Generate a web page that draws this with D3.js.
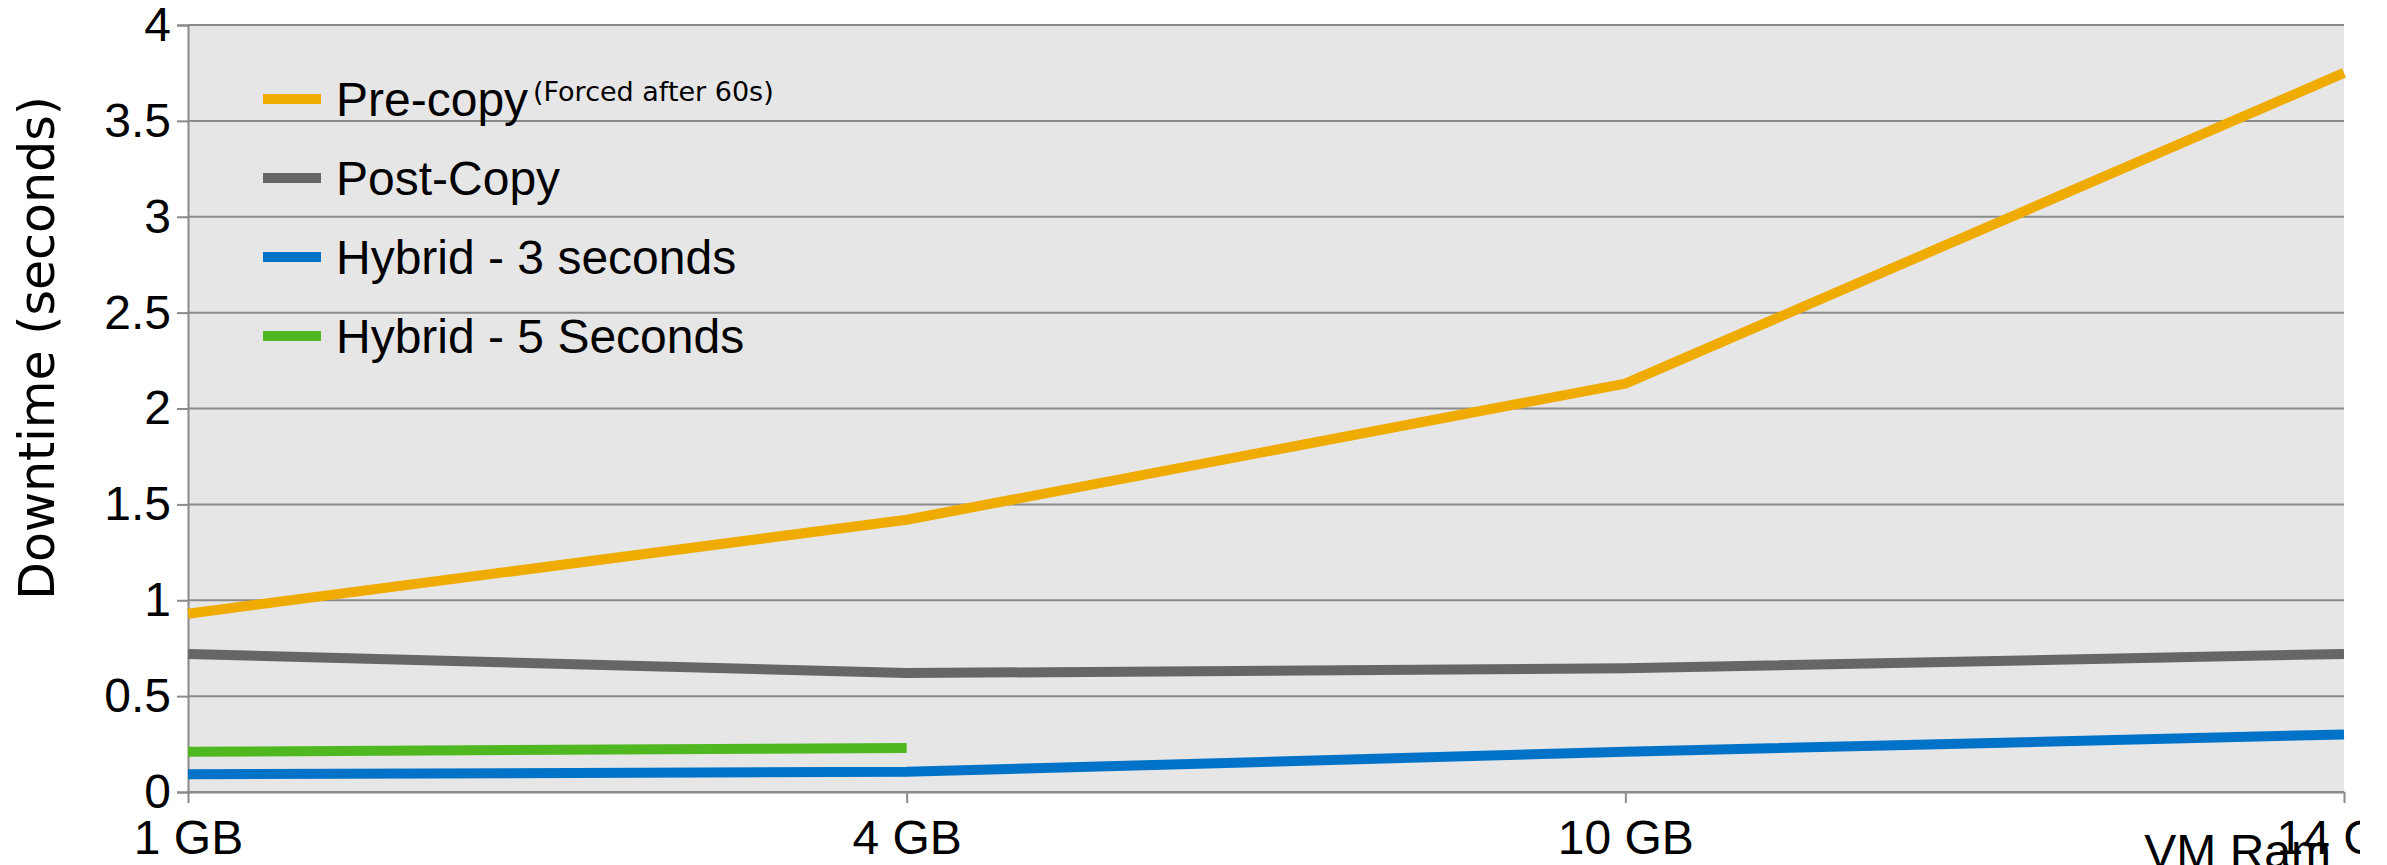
<!DOCTYPE html>
<html>
<head>
<meta charset="utf-8">
<script src="https://cdn.jsdelivr.net/npm/d3@7"></script>
<style>
  html, body { margin: 0; padding: 0; background: #ffffff; }
  svg { display: block; }
</style>
</head>
<body>
<svg id="chart"></svg>
<script>
// VM RAM sizes on the x axis
const categories = ["1 GB", "4 GB", "10 GB", "14 GB"];

// Downtime in seconds per migration strategy (null = not measured)
const preCopy   = [0.93, 1.42, 2.13, 3.75];
const postCopy  = [0.72, 0.62, 0.645, 0.72];
const hybrid3s  = [0.093, 0.105, 0.21, 0.30];
const hybrid5s  = [0.21, 0.229, null, null];

const seriesNames  = ["Pre-copy", "Post-Copy", "Hybrid - 3 seconds", "Hybrid - 5 Seconds"];
const seriesColors = ["#efab00", "#666666", "#0073c8", "#4fb820"];
const yTicks = [0, 0.5, 1, 1.5, 2, 2.5, 3, 3.5, 4];

const series = [preCopy, postCopy, hybrid3s, hybrid5s].map((values, i) => ({
  name: seriesNames[i], color: seriesColors[i], values
}));

const W = 2360, H = 865;
const plotLeft = 188, plotRight = 2344, plotTop = 25, plotBottom = 792;
const sansFont = "'Liberation Sans', Arial, sans-serif";

const svg = d3.select("#chart").attr("width", W).attr("height", H);

const x = d3.scalePoint().domain(categories).range([plotLeft, plotRight]).padding(0);
const y = d3.scaleLinear().domain([0, 4]).range([plotBottom, plotTop]);

// plot background
svg.append("rect")
  .attr("x", plotLeft).attr("y", plotTop)
  .attr("width", plotRight - plotLeft).attr("height", plotBottom - plotTop)
  .attr("fill", "#e6e6e6");

// horizontal gridlines
svg.append("g").selectAll("line").data(yTicks).join("line")
  .attr("x1", plotLeft).attr("x2", plotRight)
  .attr("y1", d => y(d)).attr("y2", d => y(d))
  .attr("stroke", "#8a8a8a").attr("stroke-width", 2);

// y axis
const yAxis = svg.append("g")
  .attr("transform", `translate(${plotLeft},0)`)
  .call(d3.axisLeft(y).tickValues(yTicks).tickSize(11).tickPadding(6).tickFormat(d => String(d)));
yAxis.select(".domain").attr("stroke", "#8a8a8a").attr("stroke-width", 2);
yAxis.selectAll(".tick line").attr("stroke", "#8a8a8a").attr("stroke-width", 2);
yAxis.selectAll(".tick text")
  .attr("fill", "#000").attr("font-family", sansFont)
  .attr("font-size", 48);

// x axis
const xAxis = svg.append("g")
  .attr("transform", `translate(0,${plotBottom})`)
  .call(d3.axisBottom(x).tickSize(11).tickPadding(17).tickSizeOuter(0));
xAxis.select(".domain").attr("stroke", "#8a8a8a").attr("stroke-width", 2);
xAxis.selectAll(".tick line").attr("stroke", "#8a8a8a").attr("stroke-width", 2);
xAxis.selectAll(".tick text")
  .attr("fill", "#000").attr("font-family", sansFont)
  .attr("font-size", 48);

// series lines
const line = d3.line()
  .defined(d => d != null)
  .x((d, i) => x(categories[i]))
  .y(d => y(d));

svg.append("g").selectAll("path").data(series).join("path")
  .attr("d", d => line(d.values))
  .attr("fill", "none")
  .attr("stroke", d => d.color)
  .attr("stroke-width", 10)
  .attr("stroke-linejoin", "round")
  .attr("stroke-linecap", "butt");

// legend
const legend = svg.append("g").attr("transform", "translate(263,99)");
const item = legend.selectAll("g").data(series).join("g")
  .attr("transform", (d, i) => `translate(0,${i * 79})`);
item.append("line")
  .attr("x1", 0).attr("x2", 58).attr("y1", 0).attr("y2", 0)
  .attr("stroke", d => d.color).attr("stroke-width", 10);
item.append("text")
  .attr("x", 73).attr("y", 17)
  .attr("font-family", sansFont)
  .attr("font-size", 48).attr("fill", "#000")
  .text(d => d.name);
legend.append("text")
  .attr("x", 270).attr("y", 2)
  .attr("font-family", "'DejaVu Sans', sans-serif")
  .attr("font-size", 27).attr("fill", "#000")
  .text("(Forced after 60s)");

// axis titles
svg.append("text")
  .attr("transform", "translate(54,348) rotate(-90)")
  .attr("text-anchor", "middle")
  .attr("font-family", "'DejaVu Sans', sans-serif")
  .attr("font-size", 49).attr("fill", "#000")
  .text("Downtime (seconds)");

svg.append("text")
  .attr("x", 2331).attr("y", 868)
  .attr("text-anchor", "end")
  .attr("font-family", sansFont)
  .attr("font-size", 48).attr("fill", "#000")
  .text("VM Ram");
</script>
</body>
</html>
